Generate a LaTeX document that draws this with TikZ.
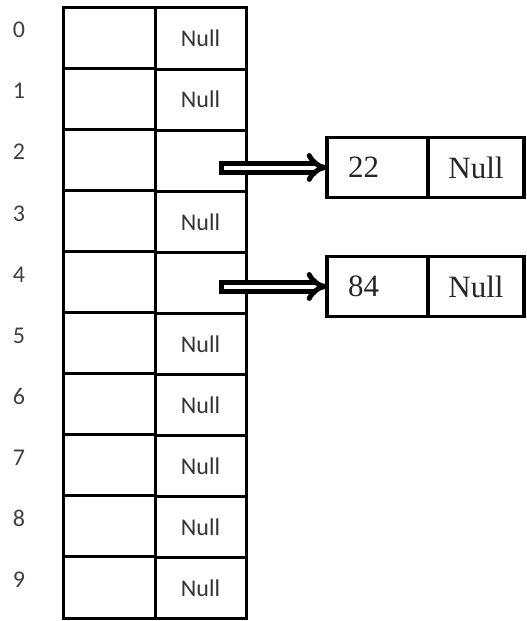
\documentclass[tikz,border=0pt]{standalone}
\usepackage{fontspec}
\setmainfont{Liberation Serif}
\newfontfamily\tabfont{Carlito}
\usetikzlibrary{positioning,arrows.meta}

\begin{document}
\begin{tikzpicture}[x=1pt, y=-1pt,
    cell/.style={draw, line width=3pt, inner sep=0pt, outer sep=0pt,
      minimum height=61.1pt, font=\tabfont\fontsize{24}{24}\selectfont, text=black!80},
    idx/.style={font=\tabfont\fontsize{24}{24}\selectfont, text=black!75},
    box/.style={draw, line width=3.5pt, inner sep=0pt, outer sep=0pt,
      minimum height=60pt, font=\fontsize{31}{31}\selectfont, text=black!85},
    keybox/.style={box, inner xsep=21pt, text width=59pt, align=left},
    link/.style={line width=5pt, double, double distance=4pt, {Bar[width=14pt]}-{Implies[scale=1.8]}}]
  \useasboundingbox (0,0) rectangle (527,621);

  % hash table, rows 0..9
  \foreach \v [count=\i from 0] in {Null,Null,{},Null,{},Null,Null,Null,Null,Null}{
    \node[cell, minimum width=92pt] (key\i) at (109, {7+61.1*\i+30.55}) {};
    \node[cell, minimum width=91pt] (val\i) at (200.5, {7+61.1*\i+31.5}) {\v};
    \node[idx] (idx\i) at (19, {7+61.1*\i+23}) {\i};
  }

  % chained entries
  \node[keybox] (n22) at (377.5,167.5) {22};
  \node[box, minimum width=96pt, right=0pt of n22] (n22next) {Null};
  \node[keybox, below=59pt of n22] (n84) {84};
  \node[box, minimum width=96pt, right=0pt of n84] (n84next) {Null};

  % pointers
  \draw[link] ([xshift=18pt]val2.center |- n22) -- (n22);
  \draw[link] ([xshift=18pt]val4.center |- n84) -- (n84);
\end{tikzpicture}
\end{document}
